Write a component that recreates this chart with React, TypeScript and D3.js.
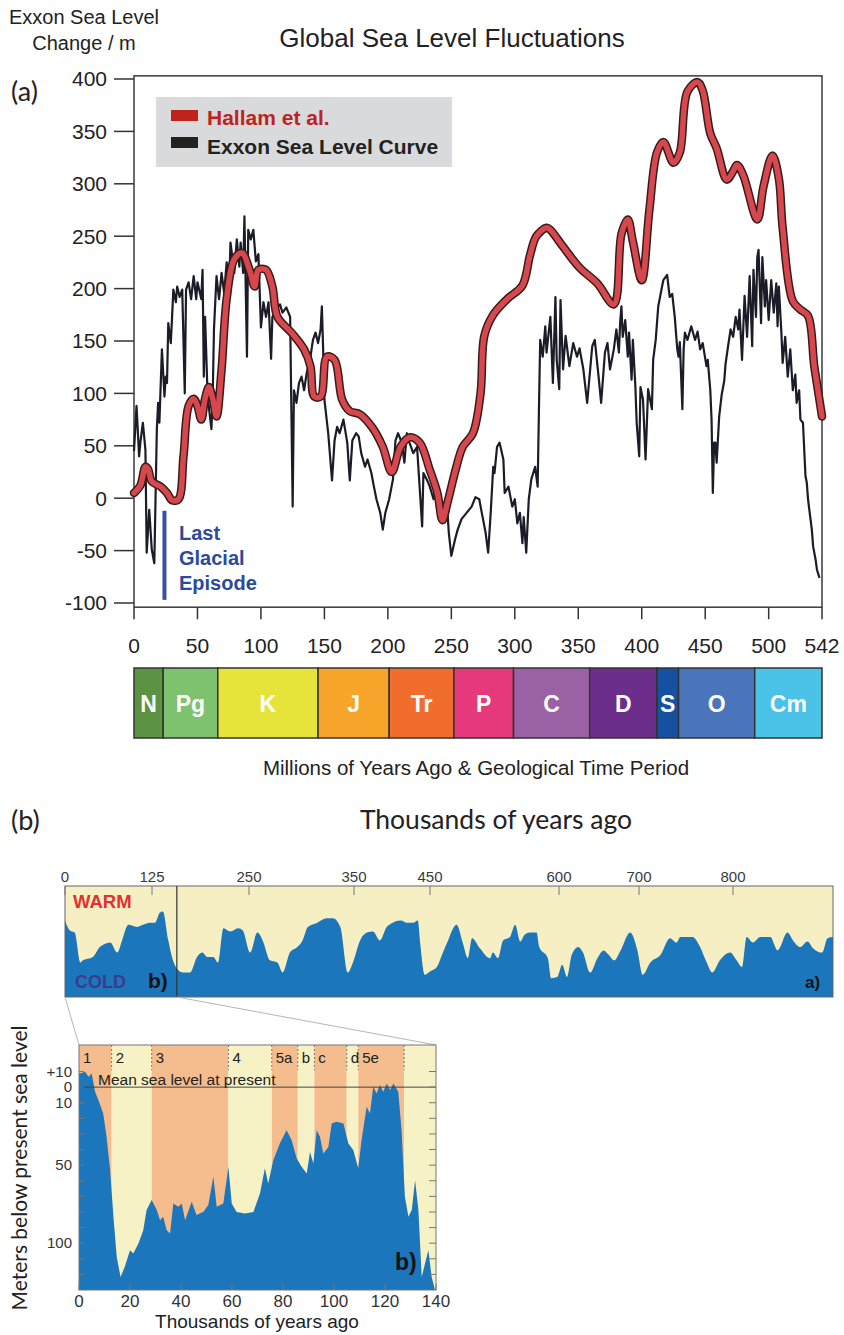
import React from "react";
import * as d3 from "d3";

// ---------- panel (a): sea level over the Phanerozoic ----------
// [millions of years ago, metres]
const hallam = [
  [0, 5], [5, 12], [9, 30], [11, 28], [14, 16], [21, 11], [26, 5], [30, -2], [35, -1], [39, 40],
  [43, 88], [47, 95], [50, 88], [53, 75], [56, 95], [59, 106], [62, 95], [65, 78], [69, 123], [73, 190],
  [79, 228], [85, 234], [91, 218], [95, 202], [98, 218], [104, 218], [109, 202], [113, 173], [124, 158], [134, 142],
  [139, 126], [142, 97], [147, 97], [152, 135], [158, 132], [164, 94], [170, 83], [178, 80], [188, 67], [196, 49],
  [203, 25], [210, 49], [217, 58], [225, 53], [233, 27], [239, 5], [243, -21], [247, -4], [254, 30], [259, 49],
  [267, 62], [273, 100], [276, 155], [283, 175], [294, 190], [306, 203], [312, 232], [317, 250], [325, 258], [328, 256],
  [338, 240], [351, 220], [365, 205], [378, 185], [384, 252], [389, 266], [393, 245], [400, 208], [406, 275], [412, 330],
  [417, 340], [425, 320], [430, 330], [436, 388], [444, 397], [448, 389], [454, 348], [459, 334], [467, 304], [472, 312],
  [475, 318], [480, 308], [491, 266], [496, 298], [503, 327], [508, 305], [511, 258], [519, 188], [525, 180], [531, 174],
  [536, 125], [542, 78],
];

const exxon = [
  [0, 45], [2, 88], [4, 40], [5, 53], [7, 72], [9, 46], [10, -52], [12, -11], [14, -49], [16, -62],
  [18, 66], [19, 91], [20, 72], [22, 142], [24, 97], [25, 116], [26, 110], [27, 167], [29, 148], [30, 173],
  [31, 199], [33, 187], [34, 202], [36, 192], [38, 199], [40, 100], [41, 199], [43, 206], [45, 190], [47, 212],
  [49, 190], [50, 206], [53, 190], [54, 218], [55, 116], [56, 173], [58, 97], [61, 66], [62, 97], [63, 161],
  [65, 212], [67, 190], [69, 215], [71, 196], [73, 225], [75, 202], [76, 244], [79, 215], [81, 247], [83, 221],
  [84, 244], [86, 215], [87, 269], [89, 135], [90, 256], [92, 247], [94, 256], [96, 226], [98, 233], [100, 163],
  [102, 187], [104, 173], [106, 187], [108, 133], [109, 173], [112, 180], [115, 185], [117, 177], [120, 182], [123, 173],
  [125, -8], [126, 103], [128, 91], [130, 110], [132, 116], [134, 103], [136, 119], [139, 135], [141, 151], [143, 158],
  [145, 148], [147, 161], [148, 183], [149, 142], [150, 94], [153, 62], [156, 17], [158, 55], [160, 68], [162, 62],
  [165, 75], [168, 53], [170, 17], [172, 55], [175, 62], [177, 59], [179, 43], [182, 30], [184, 37], [187, 24],
  [189, 11], [191, -1], [194, -14], [196, -30], [198, -14], [201, -1], [204, 18], [206, 55], [208, 62], [211, 53],
  [213, 34], [215, 62], [217, 53], [220, 43], [223, 49], [225, 11], [227, -27], [228, 24], [231, 17], [233, 11],
  [236, -1], [238, 8], [241, -1], [244, -8], [247, -14], [248, -33], [250, -55], [253, -39], [255, -30], [258, -20],
  [262, -14], [266, -8], [269, 1], [272, -1], [274, -14], [277, -33], [279, -52], [281, -14], [283, 30], [284, 24],
  [286, 49], [288, 53], [291, 37], [292, 5], [295, 11], [298, -8], [300, -1], [302, -24], [304, -14], [306, -43],
  [307, -18], [309, -52], [311, -1], [313, 18], [316, 30], [318, 11], [319, 84], [320, 151], [322, 135], [324, 164],
  [325, 139], [328, 173], [330, 110], [332, 192], [333, 132], [335, 104], [336, 189], [338, 123], [340, 155], [343, 126],
  [346, 148], [349, 135], [351, 143], [354, 123], [357, 91], [361, 145], [363, 151], [366, 116], [368, 91], [371, 139],
  [373, 148], [375, 123], [378, 142], [380, 161], [382, 139], [383, 168], [384, 183], [385, 154], [387, 170], [389, 135],
  [390, 158], [392, 113], [393, 151], [395, 106], [396, 72], [398, 40], [399, 106], [401, 94], [403, 37], [405, 104],
  [408, 85], [409, 132], [411, 151], [413, 183], [416, 202], [417, 208], [420, 213], [422, 192], [424, 195], [426, 173],
  [428, 142], [429, 135], [430, 149], [432, 85], [433, 142], [434, 158], [436, 151], [439, 164], [442, 151], [444, 159],
  [446, 142], [448, 148], [451, 126], [452, 132], [454, 103], [455, 75], [456, 5], [457, 53], [458, 53], [459, 34],
  [461, 78], [463, 99], [465, 112], [466, 128], [468, 145], [470, 161], [472, 154], [474, 173], [476, 161], [477, 180],
  [479, 132], [481, 193], [483, 154], [485, 212], [487, 145], [488, 218], [490, 173], [491, 230], [492, 237], [494, 167],
  [495, 230], [497, 183], [498, 208], [500, 170], [502, 208], [504, 177], [506, 205], [507, 164], [508, 202], [510, 158],
  [511, 129], [513, 154], [514, 135], [515, 116], [517, 142], [519, 103], [521, 118], [522, 91], [524, 103], [525, 75],
  [527, 72], [529, 21], [530, 15], [531, -1], [532, -11], [534, -30], [535, -46], [537, -59], [538, -68], [540, -76],
];

const levelTicks = [-100, -50, 0, 50, 100, 150, 200, 250, 300, 350, 400];
const ageTicks = [0, 50, 100, 150, 200, 250, 300, 350, 400, 450, 500, 542];

const periodNames = ["N", "Pg", "K", "J", "Tr", "P", "C", "D", "S", "O", "Cm"];
const periodStart = [0, 23, 66, 145, 201, 252, 299, 359, 412, 429, 489];
const periodEnd = [23, 66, 145, 201, 252, 299, 359, 412, 429, 489, 542];
const periodColors = ["#5b9343", "#7dc26e", "#e6e43a", "#f6a52a", "#f06d2e", "#e5397b", "#9b61a5", "#6c2e8a", "#1651a1", "#4a75bb", "#4bc2e7"];

const glacialAge = 24;
const glacialRange = [-12, -97];

// ---------- panel (b): last ~900 kyr ----------
// [thousand years ago, warm-cold index 0..100]
const climate = [
  [0, 69], [7, 60], [14, 58], [22, 31], [26, 33], [40, 36], [50, 45], [55, 47], [65, 49], [75, 40],
  [82, 51], [91, 65], [103, 63], [112, 65], [122, 67], [129, 67], [135, 76], [139, 77], [146, 51], [152, 33],
  [159, 24], [165, 22], [174, 22], [183, 36], [190, 40], [196, 36], [204, 36], [210, 31], [217, 62], [226, 59],
  [236, 62], [242, 60], [251, 40], [258, 58], [263, 51], [270, 33], [277, 31], [282, 22], [289, 40], [296, 45],
  [301, 51], [306, 63], [315, 67], [324, 71], [330, 71], [337, 63], [344, 22], [349, 31], [358, 51], [367, 58],
  [375, 59], [384, 51], [393, 63], [401, 67], [411, 69], [420, 67], [428, 67], [434, 69], [437, 49], [443, 20],
  [450, 23], [458, 27], [465, 40], [471, 51], [477, 62], [481, 65], [488, 49], [494, 35], [499, 53], [508, 44],
  [520, 35], [523, 40], [529, 35], [535, 51], [543, 54], [549, 65], [555, 50], [560, 56], [566, 58], [574, 58],
  [577, 45], [587, 35], [591, 17], [598, 18], [604, 29], [610, 18], [616, 38], [624, 45], [630, 40], [639, 22],
  [648, 35], [656, 42], [662, 38], [669, 33], [677, 42], [689, 58], [698, 42], [704, 20], [712, 31], [723, 38],
  [733, 53], [740, 49], [744, 54], [757, 54], [765, 45], [772, 31], [778, 22], [786, 33], [797, 40], [804, 33],
  [810, 27], [815, 54], [822, 49], [830, 54], [841, 54], [849, 42], [860, 58], [866, 51], [874, 45], [882, 50],
  [888, 44], [898, 40], [904, 53], [910, 54],
];
const climateTicks = [0, 125, 250, 350, 450, 600, 700, 800];
const insetEnd = 157;

// [thousand years ago, metres below present sea level]
const seaLevel = [
  [0, -9], [0.4, -8.8], [2.4, -9.8], [3.7, -6.6], [5, -8.8], [6.3, 3], [7.6, 8.3], [9.5, 16.9], [10.8, 31.8], [12.2, 53],
  [13.5, 83], [14.8, 108.8], [16.3, 121.6], [18, 115], [20, 104.5], [21.3, 106.6], [23.3, 100.2], [25.2, 91.7], [26.5, 78.8], [28.5, 72.4],
  [30.5, 78.8], [31.8, 85.3], [33, 83], [34.4, 91.7], [35.7, 93.8], [37, 74.6], [39, 76.7], [40.3, 74.6], [41.6, 85.3], [44.2, 73.5],
  [46.1, 82], [48.8, 79.9], [50.7, 75.6], [52.7, 57.5], [54, 76.7], [56.6, 74.6], [58.6, 51], [59.9, 74.6], [61.8, 80], [65.1, 81],
  [68.4, 80], [71, 68], [72.9, 52], [74.2, 61.7], [76.2, 46.8], [78.8, 36], [81.4, 27.6], [83.4, 34], [85.4, 45.7], [87.3, 51],
  [89.3, 55.3], [90.6, 41.5], [91.9, 48.9], [93.2, 27.6], [94.5, 31.8], [95.8, 42.5], [97.8, 38.3], [99.1, 23.3], [101, 22.2], [103.7, 23.3],
  [105.6, 36], [107.6, 40.4], [109.5, 52], [110.8, 34], [112.8, 12.6], [114.1, 16.9], [115.4, -0.2], [116.7, 4], [118, -1.3], [119.3, 3],
  [120.7, -2.3], [122, 1.9], [123.3, -2.3], [125.2, 3], [126.5, 27.6], [127.8, 70.3], [129.2, 83.1], [130.5, 78.8], [131.8, 59.6], [133.1, 78.8],
  [134.4, 121.6], [135.7, 113], [137, 104.5], [138.3, 121.6], [139.6, 130], [140, 130],
];
const stageNames = ["1", "2", "3", "4", "5a", "b", "c", "d", "5e", ""];
const stageStart = [0, 12.8, 28.5, 58.6, 75.6, 85.8, 92.3, 105, 109.5, 127.5];
const stageEnd = [12.8, 28.5, 58.6, 75.6, 85.8, 92.3, 105, 109.5, 127.5, 140];
const stageWarm = [true, false, true, false, true, false, true, false, true, false];
const depthTicks = [-10, 0, 10, 50, 100];
const depthLabels = ["+10", "0", "10", "50", "100"];
const kyTicks = [0, 20, 40, 60, 80, 100, 120, 140];

const SANS = "'Liberation Sans', Arial, Helvetica, sans-serif";
const CAL = "Lato, 'Open Sans', sans-serif";

export default function App() {
  // panel (a) scales
  const xA = d3.scaleLinear().domain([0, 542]).range([134, 822]);
  const yA = d3.scaleLinear().domain([-100, 400]).range([603, 79]);
  const topA = yA(403);
  const botA = yA(-104);

  const exxonLine = d3.line<number[]>().x((d) => xA(d[0])).y((d) => yA(d[1]));
  const hallamLine = d3
    .line<number[]>()
    .x((d) => xA(d[0]))
    .y((d) => yA(d[1]))
    .curve(d3.curveCatmullRom.alpha(0.5));

  // panel (b) strip (its printed axis is not evenly spaced)
  const xS = d3
    .scaleLinear()
    .domain([0, 125, 250, 350, 450, 600, 700, 800, 910])
    .range([65, 152, 249, 354, 430, 559, 639, 733, 833]);
  const yS = d3.scaleLinear().domain([0, 100]).range([997, 886]);
  const stripArea = d3
    .area<number[]>()
    .x((d) => xS(d[0]))
    .y0(yS(0))
    .y1((d) => yS(d[1]))
    .curve(d3.curveMonotoneX);

  // panel (b) inset
  const xB = d3.scaleLinear().domain([0, 140]).range([79, 436]);
  const yB = d3.scaleLinear().domain([-27, 130]).range([1045, 1290]);
  const seaArea = d3
    .area<number[]>()
    .x((d) => xB(d[0]))
    .y0(yB(130))
    .y1((d) => yB(d[1]));

  const depthMinor = d3.range(-10, 130, 10);

  return (
    <svg width={844} height={1335} style={{ position: "absolute", left: 0, top: 0, background: "#fff" }}>
      {/* ---------- (a) headings ---------- */}
      <text x={84} y={24} fontFamily={SANS} fontSize={20} fill="#222" textAnchor="middle">Exxon Sea Level</text>
      <text x={84} y={50} fontFamily={SANS} fontSize={20} fill="#222" textAnchor="middle">Change / m</text>
      <text x={452} y={47} fontFamily={SANS} fontSize={26} fill="#222" textAnchor="middle">Global Sea Level Fluctuations</text>
      <text x={11} y={101} fontFamily={CAL} fontSize={27} fill="#222">(a)</text>

      {/* axes */}
      {levelTicks.map((t) => (
        <g key={"yt" + t}>
          <line x1={114} x2={134} y1={yA(t)} y2={yA(t)} stroke="#333" strokeWidth={1.5} />
          <text x={107} y={yA(t)} dy="0.35em" textAnchor="end" fontFamily={SANS} fontSize={21} fill="#222">{t}</text>
        </g>
      ))}
      {ageTicks.map((t) => (
        <g key={"xt" + t}>
          <line x1={xA(t)} x2={xA(t)} y1={botA} y2={botA + 12} stroke="#333" strokeWidth={1.5} />
          <text x={xA(t)} y={653} textAnchor="middle" fontFamily={SANS} fontSize={21} fill="#222">{t}</text>
        </g>
      ))}
      <rect x={134} y={topA} width={822 - 134} height={botA - topA} fill="none" stroke="#3a3a3a" strokeWidth={1.5} />

      {/* legend */}
      <rect x={156} y={97} width={296} height={70} fill="#d9dadb" />
      <rect x={171} y={110} width={27} height={11} fill="#c0231e" />
      <text x={207} y={125} fontFamily={SANS} fontWeight="bold" fontSize={21} fill="#c0231e">Hallam et al.</text>
      <rect x={171} y={137} width={27} height={11} fill="#222" />
      <text x={207} y={154} fontFamily={SANS} fontWeight="bold" fontSize={21} fill="#222">Exxon Sea Level Curve</text>

      {/* series */}
      <path d={exxonLine(exxon) || ""} fill="none" stroke="#1c1c28" strokeWidth={2.2} strokeLinejoin="round" />
      <path d={hallamLine(hallam) || ""} fill="none" stroke="#3a1b1b" strokeWidth={8.5} strokeLinejoin="round" strokeLinecap="round" />
      <path d={hallamLine(hallam) || ""} fill="none" stroke="#d6484d" strokeWidth={5.5} strokeLinejoin="round" strokeLinecap="round" />

      {/* last glacial episode */}
      <rect x={xA(glacialAge) - 2} y={yA(glacialRange[0])} width={4} height={yA(glacialRange[1]) - yA(glacialRange[0])} fill="#3b509f" />
      {["Last", "Glacial", "Episode"].map((s, i) => (
        <text key={s} x={179} y={540 + i * 25} fontFamily={SANS} fontWeight="bold" fontSize={20} fill="#2b4a9e">{s}</text>
      ))}

      {/* geological periods */}
      {periodNames.map((p, i) => (
        <g key={p}>
          <rect x={xA(periodStart[i])} y={668} width={xA(periodEnd[i]) - xA(periodStart[i])} height={70} fill={periodColors[i]} stroke="#333" strokeWidth={1.5} />
          <text x={(xA(periodStart[i]) + xA(periodEnd[i])) / 2} y={712} textAnchor="middle" fontFamily={SANS} fontWeight="bold" fontSize={23} fill="#fff">{p}</text>
        </g>
      ))}
      <text x={476} y={775} textAnchor="middle" fontFamily={SANS} fontSize={20.5} fill="#222">Millions of Years Ago &amp; Geological Time Period</text>

      {/* ---------- (b) ---------- */}
      <text x={11} y={830} fontFamily={CAL} fontSize={27} fill="#222">(b)</text>
      <text x={496} y={829} textAnchor="middle" fontFamily={CAL} fontSize={26.5} fill="#222">Thousands of years ago</text>

      {/* strip */}
      <rect x={65} y={886} width={833 - 65} height={111} fill="#f5efc3" />
      <path d={stripArea(climate) || ""} fill="#1b76bc" />
      <rect x={65} y={886} width={833 - 65} height={111} fill="none" stroke="#666" strokeWidth={1} />
      <line x1={xS(insetEnd)} x2={xS(insetEnd)} y1={886} y2={997} stroke="#333" strokeWidth={1.2} />
      {climateTicks.map((t) => (
        <g key={"ct" + t}>
          <line x1={xS(t)} x2={xS(t)} y1={886} y2={895} stroke="#777" strokeWidth={1} />
          <text x={xS(t)} y={882} textAnchor="middle" fontFamily={SANS} fontSize={15} fill="#3a3a3a">{t}</text>
        </g>
      ))}
      <text x={73} y={908} fontFamily={SANS} fontWeight="bold" fontSize={18.5} fill="#e2312b">WARM</text>
      <text x={75} y={988} fontFamily={SANS} fontWeight="bold" fontSize={18} fill="#3b3c8c">COLD</text>
      <text x={148} y={988} fontFamily={SANS} fontWeight="bold" fontSize={21} fill="#111">b)</text>
      <text x={805} y={988} fontFamily={SANS} fontWeight="bold" fontSize={17} fill="#111">a)</text>

      {/* zoom connectors */}
      <line x1={xS(0)} y1={997} x2={xB(0)} y2={1045} stroke="#b5b5b5" strokeWidth={1} />
      <line x1={xS(insetEnd)} y1={997} x2={xB(140)} y2={1045} stroke="#b5b5b5" strokeWidth={1} />

      {/* inset */}
      {stageNames.map((s, i) => (
        <rect key={"st" + i} x={xB(stageStart[i])} y={1045} width={xB(stageEnd[i]) - xB(stageStart[i])} height={245} fill={stageWarm[i] ? "#f5bc8d" : "#f7f2c5"} />
      ))}
      <path d={seaArea(seaLevel) || ""} fill="#1b76bc" />
      {stageStart.slice(1).map((s) => (
        <line key={"sd" + s} x1={xB(s)} x2={xB(s)} y1={1045} y2={1070} stroke="#777" strokeWidth={1} strokeDasharray="2,2" />
      ))}
      {stageNames.map((s, i) => (
        <text key={"sl" + i} x={xB(stageStart[i]) + 4} y={1063} fontFamily={SANS} fontSize={15} fill="#222">{s}</text>
      ))}
      <line x1={xB(0)} x2={xB(140)} y1={yB(0)} y2={yB(0)} stroke="#444" strokeWidth={1} />
      <text x={98} y={1085} fontFamily={SANS} fontSize={15.5} fill="#222">Mean sea level at present</text>
      {depthMinor.map((t) => (
        <g key={"dm" + t}>
          <line x1={xB(140) - 7} x2={xB(140)} y1={yB(t)} y2={yB(t)} stroke="#777" strokeWidth={1} />
          <line x1={xB(0)} x2={xB(0) + 5} y1={yB(t)} y2={yB(t)} stroke="#777" strokeWidth={1} />
        </g>
      ))}
      {depthTicks.map((t, i) => (
        <text key={"dl" + t} x={72} y={yB(t)} dy="0.35em" textAnchor="end" fontFamily={SANS} fontSize={15} fill="#333">{depthLabels[i]}</text>
      ))}
      {kyTicks.map((t) => (
        <g key={"ky" + t}>
          <line x1={xB(t)} x2={xB(t)} y1={1290} y2={1284} stroke="#777" strokeWidth={1} />
          <text x={xB(t)} y={1307} textAnchor="middle" fontFamily={SANS} fontSize={17} fill="#333">{t}</text>
        </g>
      ))}
      <rect x={79} y={1045} width={436 - 79} height={245} fill="none" stroke="#777" strokeWidth={1} />
      <text x={395} y={1270} fontFamily={SANS} fontWeight="bold" fontSize={23} fill="#111">b)</text>
      <text x={257} y={1328} textAnchor="middle" fontFamily={SANS} fontSize={19} fill="#222">Thousands of years ago</text>
      <text transform="translate(27,1168) rotate(-90)" textAnchor="middle" fontFamily={CAL} fontSize={21} fill="#222">Meters below present sea level</text>
    </svg>
  );
}
